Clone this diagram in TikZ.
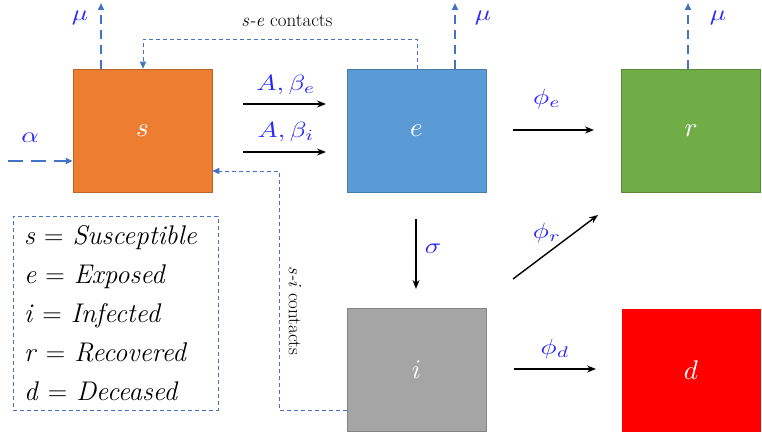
\documentclass[tikz,border=0pt]{standalone}
\usepackage{graphicx}
\usetikzlibrary{arrows.meta}
\definecolor{sorange}{HTML}{ED7D31}
\definecolor{eblue}{HTML}{5B9BD5}
\definecolor{rgreen}{HTML}{70AD47}
\definecolor{igray}{HTML}{A5A5A5}
\definecolor{dred}{HTML}{FF0000}
\definecolor{dashblue}{HTML}{4472C4}
\definecolor{lblue}{RGB}{40,40,255}
\newcommand{\lblmath}[1]{\scalebox{2.7}[2.2]{$#1$}}
\newcommand{\boxmath}[1]{\scalebox{2.7}{$#1$}}
\begin{document}
\begin{tikzpicture}[x=1pt,y=-1pt,
  box/.style={minimum width=139pt,minimum height=123pt,inner sep=0pt,text=white},
  flow/.style={line width=1.4pt,-{Stealth[length=9pt,width=7pt]}},
  mudash/.style={dashblue,line width=1.8pt,dash pattern=on 9pt off 6pt,-{Triangle[length=7pt,width=6pt]}},
  contact/.style={dashblue,line width=0.8pt,dash pattern=on 4pt off 3pt,-{Triangle[length=7pt,width=6pt]}},
  lab/.style={text=lblue,inner sep=0pt},
  small/.style={font=\fontsize{19}{21}\selectfont,inner sep=0pt}]
\useasboundingbox (0,0) rectangle (762,441);
% boxes
\node[box,fill=sorange,draw=sorange!80!black,line width=0.5pt] (s) at (142.5,130.5) {\boxmath{s}};
\node[box,fill=eblue,draw=eblue!80!black,line width=0.5pt] (e) at (416.5,130.5) {\boxmath{e}};
\node[box,fill=rgreen,draw=rgreen!80!black,line width=0.5pt] (r) at (691,130.5) {\boxmath{r}};
\node[box,fill=igray,draw=igray!80!black,line width=0.5pt] (i) at (416.5,370) {\boxmath{i}};
\node[box,fill=dred] (d) at (691,370) {\boxmath{d}};
% mu outflows
\coordinate (smu) at (101,3);
\coordinate (emu) at (455,3);
\coordinate (rmu) at (688,3);
\draw[mudash] (s.north -| smu) -- (smu);
\draw[mudash] (e.north -| emu) -- (emu);
\draw[mudash] (r.north -| rmu) -- (rmu);
\node[lab] (lmus) at (80,18) {\lblmath{\mu}};
\node[lab] (lmue) at (483,18) {\lblmath{\mu}};
\node[lab] (lmur) at (718,18) {\lblmath{\mu}};
% alpha inflow
\coordinate (ain) at (8,161);
\draw[mudash,dash pattern=on 15pt off 8pt] (ain) -- (ain -| s.west);
\node[lab] (lal) at (30,138) {\lblmath{\alpha}};
% s-e contacts
\coordinate (seA) at (417,39);
\coordinate (seB) at (143,39);
\draw[contact] (e.north -| seA) -- (seA) -- (seB) -- (s.north -| seB);
\node[small] (lse) at (287,21) {\textit{s-e} contacts};
% s-i contacts
\coordinate (siA) at (279,410.5);
\coordinate (siB) at (279,171);
\draw[contact] (siA -| i.west) -- (siA) -- (siB) -- (siB -| s.east);
\node[small,rotate=-90] (lsi) at (295,311) {\textit{s-i} contacts};
% transitions s -> e
\coordinate (b1a) at (243,104); \coordinate (b1b) at (326,104);
\coordinate (b2a) at (243,152); \coordinate (b2b) at (326,152);
\draw[flow] (b1a) -- (b1b);
\draw[flow] (b2a) -- (b2b);
\node[lab] (lbe) at (286,85) {\lblmath{A,\beta_e}};
\node[lab] (lbi) at (286,132) {\lblmath{A,\beta_i}};
% e -> r
\coordinate (pea) at (513,130); \coordinate (peb) at (594,130);
\draw[flow] (pea) -- (peb);
\node[lab] (lpe) at (547,99) {\lblmath{\phi_e}};
% e -> i
\coordinate (sga) at (416,219); \coordinate (sgb) at (416,289);
\draw[flow] (sga) -- (sgb);
\node[lab] (lsg) at (433,249) {\lblmath{\sigma}};
% i -> r
\coordinate (pra) at (513,279); \coordinate (prb) at (598,215);
\draw[flow] (pra) -- (prb);
\node[lab] (lpr) at (547,233) {\lblmath{\phi_r}};
% i -> d
\coordinate (pda) at (514,369); \coordinate (pdb) at (596,369);
\draw[flow] (pda) -- (pdb);
\node[lab] (lpd) at (555,349) {\lblmath{\phi_d}};
% legend
\node[draw=dashblue,line width=0.8pt,dash pattern=on 4pt off 3pt,minimum width=205pt,minimum height=194pt,
  text width=183pt,align=left,inner sep=0pt,font=\fontsize{27}{39}\selectfont] (leg) at (115.5,313)
  {\textit{s} = \textit{Susceptible}\\ \textit{e} = \textit{Exposed}\\ \textit{i} = \textit{Infected}\\ \textit{r} = \textit{Recovered}\\ \textit{d} = \textit{Deceased}};
\end{tikzpicture}
\end{document}
